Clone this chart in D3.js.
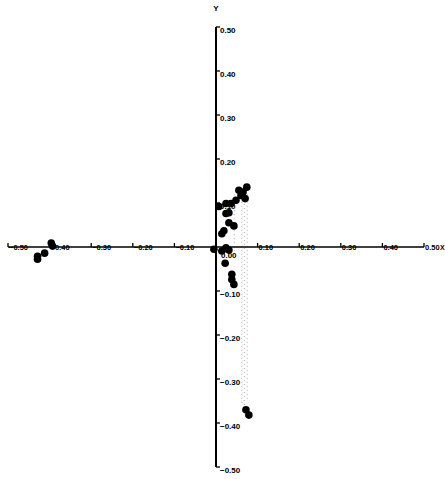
<!DOCTYPE html>
<html>
<head>
<meta charset="utf-8">
<script src="https://cdn.jsdelivr.net/npm/d3@7"></script>
<style>
  body { margin: 0; background: #fff; }
  text { font-family: "Liberation Sans", Arial, sans-serif; font-weight: bold; }
</style>
</head>
<body>
<div class="scatter"></div>
<script>
const width = 445
const height = 479

// ticks shown on both axes
const xTicks = [-0.5, -0.4, -0.3, -0.2, -0.1, 0.1, 0.2, 0.3, 0.4, 0.5]
const yTicks = [0.5, 0.4, 0.3, 0.2, 0.1, -0.1, -0.2, -0.3, -0.4, -0.5]

// points
const xs = [0.074, 0.055, 0.060, 0.048, 0.036, 0.024, 0.007, 0.031, 0.024, 0.031, 0.043, 0.019, 0.014,
            0.024, 0.014, 0.031, -0.005, 0.022, 0.038, 0.038, 0.043, 0.072, 0.079,
            -0.396, -0.393, -0.412, -0.429, -0.429, 0.065, 0.070]
const ys = [0.136, 0.129, 0.117, 0.106, 0.099, 0.099, 0.092, 0.078, 0.076, 0.055, 0.048, 0.037, 0.030,
            -0.002, -0.009, -0.007, -0.005, -0.037, -0.062, -0.074, -0.085, -0.370, -0.382,
            0.009, 0.002, -0.014, -0.021, -0.028, 0.125, 0.110]

// faint dotted drop lines
const dropX = [0.044, 0.062, 0.068, 0.075]
const dropTop = [0.120, 0.130, 0.125, 0.130]
const dropBottom = [-0.01, -0.36, -0.37, -0.35]

const svg = d3.select(".scatter")
    .append("svg")
    .attr("width", width)
    .attr("height", height)

const xScale = d3.scaleLinear().domain([-0.5, 0.5]).range([8, 424])
const yScale = d3.scaleLinear().domain([-0.5, 0.5]).range([467, 27])

const x0 = xScale(0), y0 = yScale(0)

// drop lines
svg.selectAll(".drop")
    .data(dropX)
    .enter().append("line")
    .attr("class", "drop")
    .attr("x1", d => xScale(d)).attr("x2", d => xScale(d))
    .attr("y1", (d, i) => yScale(dropTop[i]))
    .attr("y2", (d, i) => yScale(dropBottom[i]))
    .attr("stroke", "#aaa")
    .attr("stroke-width", 1)
    .attr("stroke-dasharray", "1,3")

// x axis
svg.append("line")
    .attr("x1", xScale(-0.5)).attr("x2", xScale(0.5))
    .attr("y1", y0).attr("y2", y0)
    .attr("stroke", "#000").attr("stroke-width", 1.3)

// y axis
svg.append("line")
    .attr("x1", x0).attr("x2", x0)
    .attr("y1", yScale(0.5)).attr("y2", yScale(-0.5))
    .attr("stroke", "#000").attr("stroke-width", 2)

const xg = svg.selectAll(".xt").data(xTicks).enter().append("g")
    .attr("transform", d => `translate(${xScale(d)},${y0})`)
xg.append("line").attr("y1", -4).attr("y2", 0).attr("stroke", "#000").attr("stroke-width", 1.3)
xg.append("text")
    .attr("x", 1).attr("dy", "0.35em")
    .attr("font-size", 7.5)
    .text(d => d3.format(".2f")(d))
    .attr("fill", "#000")

const yg = svg.selectAll(".yt").data(yTicks).enter().append("g")
    .attr("transform", d => `translate(${x0},${yScale(d)})`)
yg.append("line").attr("x1", 0).attr("x2", 4).attr("stroke", "#000").attr("stroke-width", 1.3)
yg.append("text")
    .attr("x", 4).attr("y", 6)
    .attr("font-size", 8)
    .text(d => d3.format(".2f")(d))

// origin label
svg.append("text")
    .attr("x", x0 + 5).attr("y", y0 + 11)
    .attr("font-size", 8)
    .text("0.00")

// axis titles
svg.append("text").attr("x", x0).attr("y", 11).attr("font-size", 8).attr("text-anchor", "middle").text("Y")
svg.append("text").attr("x", 440).attr("y", y0 + 3).attr("font-size", 7).text("X")

// points
svg.selectAll(".pt")
    .data(xs)
    .enter().append("circle")
    .attr("class", "pt")
    .attr("cx", d => xScale(d))
    .attr("cy", (d, i) => yScale(ys[i]))
    .attr("r", 3.8)
    .attr("fill", "#000")
</script>
</body>
</html>
